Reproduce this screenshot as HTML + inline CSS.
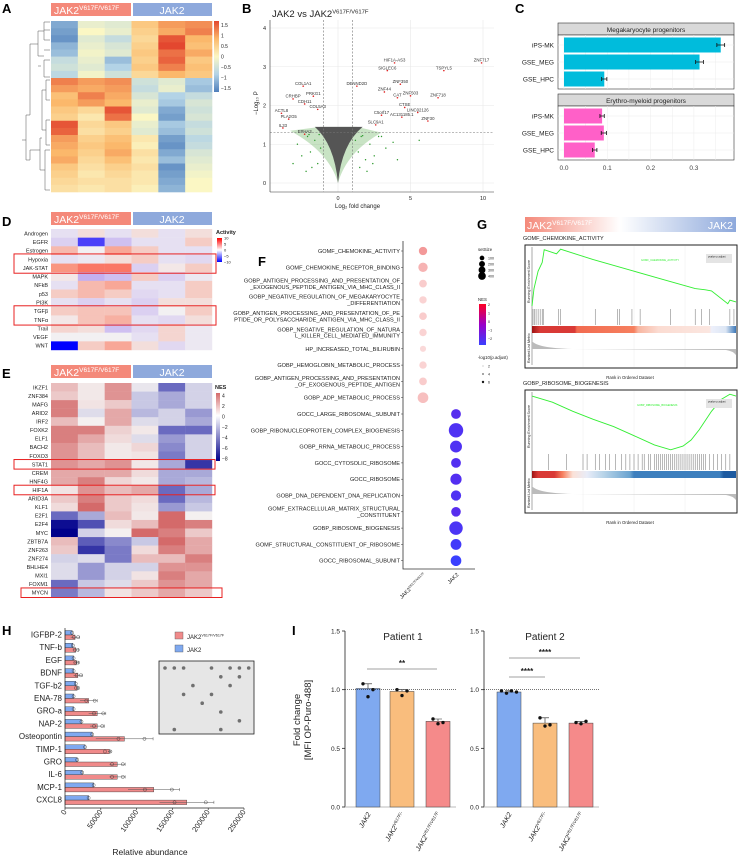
<!DOCTYPE html>
<html><head><meta charset="utf-8"><style>
body{margin:0;background:#fff}
svg{display:block;font-family:"Liberation Sans",Arial,sans-serif}
</style></head><body>
<svg id="fig" width="738" height="867" viewBox="0 0 738 867" xmlns="http://www.w3.org/2000/svg"></svg>
<script>
// ---------- DATA ----------
const heatAGroups=["JAK2 V617F/V617F","JAK2"];
const heatAValues=[
[-1.2,-0.2,-0.3,0.6,1.0,1.1],[-1.3,0.0,-0.2,0.5,0.9,1.2],[-1.4,-0.3,-0.6,0.4,1.5,0.8],[-1.1,-0.2,-0.4,0.5,1.6,0.7],
[-1.0,-0.1,-0.3,0.6,1.3,0.9],[-0.6,-0.2,-1.0,0.5,1.4,0.6],[-0.5,-0.3,-0.8,0.6,1.2,0.7],[-0.7,-0.1,-0.5,0.4,0.8,0.6],
[1.2,1.0,1.1,-0.5,-0.3,-0.9],[1.0,0.9,1.0,-0.6,-0.2,-1.0],[0.7,1.2,0.9,-0.4,-0.8,-0.6],[0.8,1.0,0.8,-0.2,-0.9,-0.4],
[0.6,0.4,1.5,-0.3,-1.2,-0.5],[0.5,0.2,1.3,0.0,-1.3,-0.4],[1.5,0.4,0.6,-0.2,-0.9,-0.6],[1.4,0.3,0.5,-0.3,-1.0,-0.5],
[1.0,0.5,0.7,0.2,-1.3,-0.7],[0.9,0.6,0.8,0.1,-1.4,-0.6],[0.8,0.5,0.9,0.3,-1.2,-0.4],[0.9,0.4,0.7,0.2,-1.0,-0.3],
[0.6,0.3,0.5,0.3,-1.4,-0.2],[0.5,0.2,0.4,0.2,-1.3,-0.1],[0.4,0.3,0.3,0.2,-1.2,0.0],[0.3,0.2,0.3,0.1,-1.1,0.0]];
const heatATicks=[1.5,1,0.5,0,-0.5,-1,-1.5];

const volcGenes=["COL1A1","PRKG1","CRHBP","CDH11","COL5A3","ACTL8","PLA2G5","IL33","EPHA3","SIGLEC6","HIF1A-AS3","ZNF717","TSPYL5","DENND2D","ZNF350","ZNF44","CAT","ZNF503","ZNF718","CTSE","LINC02126","AC131185.1","ZNF30","C5orf17","SLC9A1"];
const volcFC=[-2.4,-1.7,-3.1,-2.3,-1.4,-3.9,-3.4,-3.8,-2.3,3.4,3.9,9.9,7.3,1.3,4.3,3.2,4.1,5.0,6.9,4.6,5.5,4.4,6.2,3.0,2.6];
const volcP=[2.5,2.24,2.17,2.04,1.9,1.8,1.65,1.42,1.26,2.9,3.1,3.1,2.9,2.5,2.55,2.35,2.2,2.25,2.2,1.95,1.82,1.7,1.6,1.75,1.5];
const volcTicksX=[0,5,10];
const volcTicksY=[0,1,2,3,4];
const greenFC=[-2.8,-2.5,-2.1,-1.9,-1.6,-1.4,-1.2,-3.1,-2.2,-1.8,1.2,1.4,1.6,1.9,2.2,2.5,2.8,3.3,3.8,4.1,5.6,1.5,2.0,2.4,-1.3,-2.0,1.7,3.0];
const greenP=[1.0,0.7,1.2,0.8,1.1,0.5,0.9,0.5,0.3,0.4,1.1,0.8,1.2,0.6,1.0,0.7,1.2,0.9,1.05,0.6,1.1,0.4,0.3,0.5,1.25,1.25,1.22,1.2];

const cCats=["iPS-MK","GSE_MEG","GSE_HPC"];
const cMeg=[0.362,0.313,0.093];
const cMegErr=[0.009,0.009,0.006];
const cEry=[0.088,0.092,0.071];
const cEryErr=[0.005,0.006,0.005];
const cTicks=[0,0.1,0.2,0.3];

const dPathways=["Androgen","EGFR","Estrogen","Hypoxia","JAK-STAT","MAPK","NFkB","p53","PI3K","TGFβ","TNFα","Trail","VEGF","WNT"];
const dValues=[[-1,1,-1,1,-1,1],[-2,-8,-3,-1,-1,2],[3,0,4,2,-1,-1],[-1,-0.5,1,2,-1,-1.5],[5,6,6,-2,0.5,2],[0.5,-4,-3,2,-2,-0.5],[-1,3,4,-1,-1,2],[2,3,2,-1.5,-1,2],[-1,-2,-1,-2,1,1],[2,2.5,2.5,-2,0,2],[0.5,2.5,3.5,-1,-1.5,1],[1.5,1,-3,-1.5,1.5,-0.5],[0,0,0,-1,1.5,-0.5],[-10,2,4,1,-1.5,-0.5]];
const dTicks=[10,5,0,-5,-10];

const eTFs=["IKZF1","ZNF384","MAFG","ARID2","IRF2","FOXK2","ELF1","BACH2","FOXO3","STAT1","CREM","HNF4G","HIF1A","ARID3A","KLF1","E2F1","E2F4","MYC","ZBTB7A","ZNF263","ZNF274","BHLHE4","MXI1","FOXM1","MYCN"];
const eValues=[[2,0.3,3,-0.5,-5,-1.5],[1.5,0.3,3,-2,-3,-1.5],[3.5,0.5,1.5,-2,-3,-1.5],[3.5,-1,2.5,-2.5,-1.5,-3.5],[2,0,2.5,-1,-1.5,-3],[3.5,3.5,1.2,0.3,-5,-5],[3.5,2.5,0.8,-1,-3.5,-1.5],[3,2,0.3,1,-4,-1.5],[3,2,0.3,0.5,-4.5,-1.5],[3,2.5,3,0.3,-3,-7],[2.5,2.5,2.5,0.8,-3,-3],[2.5,3.5,1,0.3,-3,-2.5],[0.5,3,2,2.5,-5,-3],[1.5,3.5,1.5,0.8,-5,-2.5],[0.8,4,1.5,0.5,-3.5,-2],[-5,-3,2,0.3,4,0],[-8.5,-6,0.8,2,4.5,3.5],[-9,-1.5,0,4,3.5,1.5],[2,-5.5,-4,-2,4,2.5],[1.5,-7,-4.5,0.8,3.5,2.5],[-1.5,-1,-4.5,2,2,3.5],[-1,-3.5,-1.5,-1.5,3,3],[-1,-3.5,-1.5,0.5,3.5,2.5],[-5,-2,-1,1.5,3,2.5],[-4.5,-2.5,0.5,1.5,2.5,1.5]];
const eTicks=[4,2,0,-2,-4,-6,-8];

const fTerms=[["GOMF_CHEMOKINE_ACTIVITY"],["GOMF_CHEMOKINE_RECEPTOR_BINDING"],["GOBP_ANTIGEN_PROCESSING_AND_PRESENTATION_OF","_EXOGENOUS_PEPTIDE_ANTIGEN_VIA_MHC_CLASS_II"],["GOBP_NEGATIVE_REGULATION_OF_MEGAKARYOCYTE","_DIFFERENTIATION"],["GOBP_ANTIGEN_PROCESSING_AND_PRESENTATION_OF_PE","PTIDE_OR_POLYSACCHARIDE_ANTIGEN_VIA_MHC_CLASS_II"],["GOBP_NEGATIVE_REGULATION_OF_NATURA","L_KILLER_CELL_MEDIATED_IMMUNITY"],["HP_INCREASED_TOTAL_BILIRUBIN"],["GOBP_HEMOGLOBIN_METABOLIC_PROCESS"],["GOBP_ANTIGEN_PROCESSING_AND_PRESENTATION","_OF_EXOGENOUS_PEPTIDE_ANTIGEN"],["GOBP_ADP_METABOLIC_PROCESS"],["GOCC_LARGE_RIBOSOMAL_SUBUNIT"],["GOBP_RIBONUCLEOPROTEIN_COMPLEX_BIOGENESIS"],["GOBP_RRNA_METABOLIC_PROCESS"],["GOCC_CYTOSOLIC_RIBOSOME"],["GOCC_RIBOSOME"],["GOBP_DNA_DEPENDENT_DNA_REPLICATION"],["GOMF_EXTRACELLULAR_MATRIX_STRUCTURAL","_CONSTITUENT"],["GOBP_RIBOSOME_BIOGENESIS"],["GOMF_STRUCTURAL_CONSTITUENT_OF_RIBOSOME"],["GOCC_RIBOSOMAL_SUBUNIT"]];
const fGroup=[0,0,0,0,0,0,0,0,0,0,1,1,1,1,1,1,1,1,1,1];
const fSize=[90,130,70,60,70,60,30,60,70,190,150,430,260,150,220,170,140,360,200,190];
const fNES=[1.8,1.8,1.8,1.8,1.8,1.8,1.8,1.8,1.8,1.8,-1.6,-1.8,-1.8,-1.7,-1.7,-1.8,-1.6,-1.9,-2.1,-2.3];
const fAlpha=[0.8,0.6,0.4,0.35,0.4,0.35,0.3,0.35,0.4,0.5,1,1,1,1,1,1,1,1,1,1];

const gRank1=[0,0.01,0.03,0.05,0.06,0.12,0.14,0.3,0.5,0.65,0.8,0.85,0.88,0.96,0.97,1];
const gES1=[0,0.3,0.6,0.75,0.97,0.9,0.98,0.8,0.6,0.45,0.3,0.28,0.26,0.04,0.1,0.07];
const gHits1=[0.005,0.012,0.02,0.03,0.04,0.05,0.055,0.13,0.14,0.31,0.42,0.43,0.49,0.53,0.68,0.8,0.83,0.87,0.97,0.99];
const gRank2=[0,0.1,0.2,0.3,0.4,0.5,0.6,0.68,0.74,0.78,0.82,0.88,0.93,0.97,1];
const gES2=[0,-0.1,-0.25,-0.38,-0.5,-0.65,-0.8,-0.88,-0.82,-0.72,-0.55,-0.25,-0.05,0.03,0];
const gHits2=[0.08,0.17,0.25,0.27,0.31,0.33,0.36,0.38,0.41,0.44,0.46,0.48,0.5,0.52,0.54,0.55,0.57,0.58,0.6,0.61,0.62,0.63,0.64,0.65,0.66,0.67,0.68,0.69,0.7,0.71,0.72,0.73,0.74,0.75,0.76,0.77,0.78,0.79,0.8,0.81,0.82,0.83,0.84,0.85,0.87,0.89,0.91,0.93,0.95,0.97];

const hCats=["IGFBP-2","TNF-b","EGF","BDNF","TGF-b2","ENA-78","GRO-a","NAP-2","Osteopontin","TIMP-1","GRO","IL-6","MCP-1","CXCL8"];
const hJak2=[10000,11000,12000,12000,15000,12000,12000,23000,38000,28000,17000,24000,40000,33000];
const hMut=[14000,15000,16000,18000,17000,33000,45000,45000,83000,62000,73000,73000,124000,170000];
const hMutErr=[6000,4000,3000,6000,2000,12000,12000,10000,40000,2000,11000,11000,36000,38000];
const hTicks=[0,50000,100000,150000,200000,250000];

const iGroups=["JAK2","JAK2 V617F/-","JAK2 V617F/V617F"];
const iP1=[1.01,0.985,0.73];
const iP2=[0.98,0.715,0.715];
const iP1pts=[[1.05,0.94,1.0],[1.0,0.95,0.99],[0.75,0.71,0.72]];
const iP2pts=[[0.99,0.97,0.99,0.98],[0.76,0.69,0.7],[0.72,0.71,0.73]];
const iTicks=[0,0.5,1.0,1.5];

// ---------- HELPERS ----------
const NS="http://www.w3.org/2000/svg";
const svg=document.getElementById('fig');
function mk(parent,tag,attrs,name,inter){
  const el=document.createElementNS(NS,tag);
  for(const k in attrs) el.setAttribute(k,attrs[k]);
  
  
  parent.appendChild(el);return el;
}
function txt(parent,x,y,s,size,name,extra){
  const a=Object.assign({x:x,y:y,'font-size':size,fill:'#222'},extra||{});
  const t=mk(parent,'text',a,name,false);t.textContent=s;return t;
}
function supTxt(parent,x,y,base,sup,size,name,extra){
  const a=Object.assign({x:x,y:y,'font-size':size,fill:'#222'},extra||{});
  const t=mk(parent,'text',a,name,false);
  const s1=mk(t,'tspan',{},name+'-base',false);s1.textContent=base;
  const s2=mk(t,'tspan',{'font-size':size*0.62,dy:-size*0.38},name+'-sup',false);s2.textContent=sup;
  return t;
}
function lerp(a,b,t){return a+(b-a)*t}
function hex(c){return [parseInt(c.slice(1,3),16),parseInt(c.slice(3,5),16),parseInt(c.slice(5,7),16)]}
function scaleColor(stops,v){
  if(v<=stops[0][0])return stops[0][1];
  for(let i=1;i<stops.length;i++){if(v<=stops[i][0]){const t=(v-stops[i-1][0])/(stops[i][0]-stops[i-1][0]);const a=hex(stops[i-1][1]),b=hex(stops[i][1]);return 'rgb('+a.map((x,j)=>Math.round(lerp(x,b[j],t))).join(',')+')';}}
  return stops[stops.length-1][1];
}
function panelLabel(x,y,s){txt(svg,x,y,s,13,'panel-label-'+s.toLowerCase(),{'font-weight':'bold',fill:'#000'});}
function groupHeaders(y,name){
  mk(svg,'rect',{x:51,y:y,width:80,height:13,fill:'#f4897a'},name+'-mutant-header',false);
  mk(svg,'rect',{x:133,y:y,width:79,height:13,fill:'#8ea9dc'},name+'-jak2-header',false);
  supTxt(svg,54,y+11,'JAK2','V617F/V617F',10.5,name+'-mutant-label',{fill:'#fff'});
  txt(svg,172,y+11,'JAK2',10.5,name+'-jak2-label',{fill:'#fff','text-anchor':'middle'});
}

// ---------- PANEL A ----------
panelLabel(2,13,'A');
groupHeaders(3,'a');
const aStops=[[-1.6,'#4f7fbb'],[-0.8,'#b3d3e6'],[0,'#fbf7c4'],[0.8,'#fbb86b'],[1.6,'#e3472f']];
const aG=mk(svg,'g',{},'heatmap-a',false);
const aRowH=171/heatAValues.length, aColW=161/6;
heatAValues.forEach((row,i)=>row.forEach((v,j)=>{
  mk(aG,'rect',{x:51+j*aColW,y:21+i*aRowH,width:aColW+0.3,height:aRowH+0.3,fill:scaleColor(aStops,v)},'heatmap-a-cell',false);
}));
mk(svg,'path',{d:'M50 22H44V40H50M50 30H44M44 31H38V56H44M50 50H44M50 60H44V77H50M41 66H38M38 44H30V115M50 80H46V100H50M46 90H42V130H46M50 120H46V145H50M50 150H45V190H50M45 170H40V138H42M40 150H30M30 115H26V160H30M30 160V150M26 140H22',fill:'none',stroke:'#555','stroke-width':0.5},'dendrogram-a',false);
const aBar=mk(svg,'defs',{},'defs',false);
aBar.innerHTML='<linearGradient id="ga" x1="0" y1="0" x2="0" y2="1"><stop offset="0" stop-color="#e3472f"/><stop offset="0.25" stop-color="#fbb86b"/><stop offset="0.5" stop-color="#fbf7c4"/><stop offset="0.75" stop-color="#b3d3e6"/><stop offset="1" stop-color="#4f7fbb"/></linearGradient><linearGradient id="gd" x1="0" y1="0" x2="0" y2="1"><stop offset="0" stop-color="#ff0000"/><stop offset="0.5" stop-color="#ffffff"/><stop offset="1" stop-color="#0000ff"/></linearGradient><linearGradient id="ge" x1="0" y1="0" x2="0" y2="1"><stop offset="0" stop-color="#d46a6a"/><stop offset="0.33" stop-color="#ffffff"/><stop offset="1" stop-color="#00008b"/></linearGradient><linearGradient id="gf" x1="0" y1="0" x2="0" y2="1"><stop offset="0" stop-color="#ff0022"/><stop offset="0.5" stop-color="#9a00c8"/><stop offset="1" stop-color="#3a40ff"/></linearGradient><linearGradient id="gg" x1="0" y1="0" x2="1" y2="0"><stop offset="0" stop-color="#f4897a"/><stop offset="0.45" stop-color="#ffffff"/><stop offset="1" stop-color="#8ea9dc"/></linearGradient><linearGradient id="gr1" x1="0" y1="0" x2="1" y2="0"><stop offset="0" stop-color="#9e1414"/><stop offset="0.04" stop-color="#d93a36"/><stop offset="0.21" stop-color="#d93a36"/><stop offset="0.22" stop-color="#f26b50"/><stop offset="0.5" stop-color="#f6805f"/><stop offset="0.52" stop-color="#f8b5a0"/><stop offset="0.62" stop-color="#fbdcd2"/><stop offset="0.87" stop-color="#fbe6e0"/><stop offset="0.88" stop-color="#edf0fb"/><stop offset="0.95" stop-color="#dce6f4"/><stop offset="1" stop-color="#3c78b8"/></linearGradient><linearGradient id="gr2" x1="0" y1="0" x2="1" y2="0"><stop offset="0" stop-color="#9e1414"/><stop offset="0.03" stop-color="#d93a36"/><stop offset="0.11" stop-color="#d93a36"/><stop offset="0.15" stop-color="#f6805f"/><stop offset="0.2" stop-color="#fbe2d8"/><stop offset="0.27" stop-color="#e8ecf8"/><stop offset="0.35" stop-color="#b8d4e8"/><stop offset="0.48" stop-color="#6aa3d0"/><stop offset="0.5" stop-color="#3d7fbe"/><stop offset="0.92" stop-color="#3d7fbe"/><stop offset="0.94" stop-color="#1d5aa0"/><stop offset="1" stop-color="#1d5aa0"/></linearGradient>';
mk(svg,'rect',{x:214,y:21,width:5,height:71,fill:'url(#ga)'},'colorbar-a',false);
heatATicks.forEach(t=>{const y=21+(1.7-t)/3.4*71;txt(svg,221,y+2,String(t).replace('-','−'),5,'colorbar-a-tick');});

// ---------- PANEL B ----------
panelLabel(242,13,'B');
supTxt(svg,272,17,'JAK2 vs JAK2','V617F/V617F',9.5,'volcano-title');
const vx=fc=>338+fc*14.5, vy=p=>183-p*38.75;
const bG=mk(svg,'g',{},'volcano-plot',false);
mk(bG,'rect',{x:270,y:20,width:224,height:172,fill:'#fff'},'volcano-bg',false);
volcTicksX.forEach(t=>{mk(bG,'line',{x1:vx(t),x2:vx(t),y1:20,y2:192,stroke:'#e8e8e8','stroke-width':0.6},'volcano-gridline-x',false);txt(svg,vx(t),200,String(t),5.5,'volcano-x-tick',{'text-anchor':'middle'});});
volcTicksY.forEach(t=>{mk(bG,'line',{x1:270,x2:494,y1:vy(t),y2:vy(t),stroke:'#e8e8e8','stroke-width':0.6},'volcano-gridline-y',false);txt(svg,266,vy(t)+2,String(t),5.5,'volcano-y-tick',{'text-anchor':'end'});});
mk(bG,'path',{d:'M'+vx(0)+' '+vy(0)+' Q'+vx(-0.6)+' '+vy(0.8)+' '+vx(-3.3)+' '+vy(1.35)+' L'+vx(-1.2)+' '+vy(1.45)+' L'+vx(1.3)+' '+vy(1.45)+' L'+vx(3.0)+' '+vy(1.3)+' Q'+vx(0.6)+' '+vy(0.8)+' '+vx(0)+' '+vy(0)+'Z',fill:'#3a9a2a',opacity:0.28},'volcano-green-cloud',false);
greenFC.forEach((f,i)=>mk(bG,'circle',{cx:vx(f),cy:vy(greenP[i]),r:0.7,fill:'#2e9a2e'},'volcano-point-green',false));
mk(bG,'path',{d:'M'+vx(0)+' '+vy(0)+' Q'+vx(-0.25)+' '+vy(1.0)+' '+vx(-1.6)+' '+vy(1.45)+' L'+vx(1.7)+' '+vy(1.45)+' Q'+vx(0.25)+' '+vy(1.0)+' '+vx(0)+' '+vy(0)+'Z',fill:'#555'},'volcano-gray-cloud',false);
mk(bG,'line',{x1:vx(-1),x2:vx(-1),y1:20,y2:192,stroke:'#777','stroke-dasharray':'2,1.5','stroke-width':0.6},'volcano-fc-threshold-left',false);
mk(bG,'line',{x1:vx(1),x2:vx(1),y1:20,y2:192,stroke:'#777','stroke-dasharray':'2,1.5','stroke-width':0.6},'volcano-fc-threshold-right',false);
mk(bG,'line',{x1:270,x2:494,y1:vy(1.3),y2:vy(1.3),stroke:'#777','stroke-dasharray':'2,1.5','stroke-width':0.6},'volcano-p-threshold',false);
volcGenes.forEach((g,i)=>{
  mk(bG,'circle',{cx:vx(volcFC[i]),cy:vy(volcP[i]),r:0.8,fill:'#e02020'},'volcano-point-red',false);
  txt(svg,vx(volcFC[i]),vy(volcP[i])-1.2,g,4.3,'volcano-gene-label',{'text-anchor':'middle',fill:'#333'});
});
mk(svg,'line',{x1:270,x2:270,y1:20,y2:192,stroke:'#333','stroke-width':0.6},'volcano-y-axis',false);
mk(svg,'line',{x1:270,x2:494,y1:192,y2:192,stroke:'#333','stroke-width':0.6},'volcano-x-axis',false);
txt(svg,335,208,'Log₂ fold change',6,'volcano-x-title');
txt(svg,0,0,'−Log₁₀ P',6,'volcano-y-title',{transform:'translate(258,115) rotate(-90)'});

// ---------- PANEL C ----------
panelLabel(515,13,'C');
const cx0=564, cxs=433;
function facet(y0,title,vals,errs,color,name){
  mk(svg,'rect',{x:558,y:y0,width:176,height:12,fill:'#d9d9d9',stroke:'#333','stroke-width':0.6},name+'-strip',false);
  txt(svg,646,y0+9,title,6.5,name+'-strip-label',{'text-anchor':'middle'});
  mk(svg,'rect',{x:558,y:y0+12,width:176,height:54,fill:'#fff',stroke:'#333','stroke-width':0.6},name+'-panel',false);
  cTicks.concat([0.05,0.15,0.25,0.35]).forEach(t=>mk(svg,'line',{x1:cx0+t*cxs,x2:cx0+t*cxs,y1:y0+12,y2:y0+66,stroke:'#ececec','stroke-width':0.5},name+'-grid',false));
  vals.forEach((v,i)=>{
    const cy=y0+22+i*17;
    mk(svg,'line',{x1:558,x2:734,y1:cy,y2:cy,stroke:'#ececec','stroke-width':0.5},name+'-grid-y',false);
    mk(svg,'rect',{x:cx0,y:cy-7.5,width:v*cxs,height:15,fill:color},name+'-bar',false);
    const e1=cx0+(v-errs[i])*cxs,e2=cx0+(v+errs[i])*cxs;
    mk(svg,'path',{d:'M'+e1+' '+cy+'H'+e2+'M'+e1+' '+(cy-2)+'V'+(cy+2)+'M'+e2+' '+(cy-2)+'V'+(cy+2),stroke:'#111','stroke-width':0.8,fill:'none'},name+'-errorbar',false);
    txt(svg,554,cy+2.5,cCats[i],6.5,name+'-category-label',{'text-anchor':'end'});
  });
}
facet(23,'Megakaryocyte progenitors',cMeg,cMegErr,'#00bcdc','c-megakaryocyte');
facet(94,'Erythro-myeloid progenitors',cEry,cEryErr,'#ff60c8','c-erythro-myeloid');
cTicks.forEach(t=>txt(svg,cx0+t*cxs,170,t.toFixed(1),6.5,'c-x-tick',{'text-anchor':'middle',fill:'#444'}));

// ---------- PANEL D ----------
panelLabel(2,226,'D');
groupHeaders(212,'d');
const dStops=[[-10,'#0000ff'],[-5,'#b8a0f0'],[0,'#f2f0f2'],[5,'#f99580'],[10,'#ff0000']];
const dRowH=(350-229)/dPathways.length;
dValues.forEach((row,i)=>{
  txt(svg,48,229+(i+0.5)*dRowH+2,dPathways[i],5.5,'d-row-label',{'text-anchor':'end'});
  row.forEach((v,j)=>mk(svg,'rect',{x:51+j*aColW,y:229+i*dRowH,width:aColW+0.2,height:dRowH+0.2,fill:scaleColor(dStops,v)},'d-heatmap-cell',false));
});
mk(svg,'rect',{x:14,y:229+3*dRowH-1,width:202,height:2*dRowH+2,fill:'none',stroke:'#e82020','stroke-width':1},'d-highlight-jak-stat',false);
mk(svg,'rect',{x:14,y:229+9*dRowH-1,width:202,height:2*dRowH+2,fill:'none',stroke:'#e82020','stroke-width':1},'d-highlight-tgfb',false);
txt(svg,216,234,'Activity',5.5,'d-colorbar-title',{'font-weight':'bold'});
mk(svg,'rect',{x:217,y:238,width:5,height:24,fill:'url(#gd)'},'d-colorbar',false);
dTicks.forEach(t=>txt(svg,224,238+(10-t)/20*24+1.5,String(t).replace('-','−'),4,'d-colorbar-tick'));

// ---------- PANEL E ----------
panelLabel(2,378,'E');
groupHeaders(365,'e');
const eStops=[[-9,'#00008b'],[-5,'#6a6ac0'],[-2,'#c8c8e4'],[0,'#f4f0f0'],[2,'#e9bcbc'],[4,'#d46a6a']];
const eRowH=(597-383)/eTFs.length;
eValues.forEach((row,i)=>{
  txt(svg,48,383+(i+0.5)*eRowH+2,eTFs[i],5.5,'e-row-label',{'text-anchor':'end'});
  row.forEach((v,j)=>mk(svg,'rect',{x:51+j*aColW,y:383+i*eRowH,width:aColW+0.2,height:eRowH+0.2,fill:scaleColor(eStops,v)},'e-heatmap-cell',false));
});
[[9,14,215],[12,14,215],[24,21,222]].forEach(b=>mk(svg,'rect',{x:b[1],y:383+b[0]*eRowH-0.5,width:b[2]-b[1],height:eRowH+1,fill:'none',stroke:'#e82020','stroke-width':1},'e-highlight-box',false));
txt(svg,215,389,'NES',5.5,'e-colorbar-title',{'font-weight':'bold'});
mk(svg,'rect',{x:216,y:393,width:4,height:68,fill:'url(#ge)'},'e-colorbar',false);
eTicks.forEach(t=>txt(svg,222,393+(4.5-t)/13*68+2,String(t).replace('-','−'),5,'e-colorbar-tick'));

// ---------- PANEL F ----------
panelLabel(258,266,'F');
const fy0=251, fdy=16.3;
const fxPos=[423,456];
const fR=s=>1.6+Math.sqrt(s)*0.27;
const fStops=[[-2.3,'#3a40ff'],[0,'#9a00c8'],[2,'#ff0022']];
fTerms.forEach((lines,i)=>{
  const y=fy0+i*fdy;
  lines.forEach((l,k)=>txt(svg,400,y+2-(lines.length-1)*3.2+k*6.4,l,5.6,'f-term-label',{'text-anchor':'end'}));
  mk(svg,'line',{x1:401,x2:403,y1:y,y2:y,stroke:'#333','stroke-width':0.5},'f-y-tick',false);
  const c=fGroup[i]===0?'#f08080':scaleColor(fStops,fNES[i]);
  mk(svg,'circle',{cx:fxPos[fGroup[i]],cy:y,r:fR(fSize[i]),fill:c,'fill-opacity':fAlpha[i]},'f-dot',false);
});
mk(svg,'path',{d:'M403 241V569H475',stroke:'#333','stroke-width':0.8,fill:'none'},'f-axes',false);
supTxt(svg,0,0,'JAK2','V617F/V617F',5.5,'f-x-label-mutant',{transform:'translate(426,575) rotate(-45)','text-anchor':'end'});
txt(svg,0,0,'JAK2',5.5,'f-x-label-jak2',{transform:'translate(459,575) rotate(-45)','text-anchor':'end'});
txt(svg,478,251,'setSize',4.3,'f-legend-size-title');
[100,200,300,400].forEach((s,k)=>{mk(svg,'circle',{cx:482,cy:258+k*6,r:fR(s)*0.55,fill:'#000'},'f-legend-size-dot',false);txt(svg,488,259.5+k*6,String(s),3.6,'f-legend-size-label');});
txt(svg,478,301,'NES',4.3,'f-legend-nes-title');
mk(svg,'rect',{x:479,y:304,width:7,height:41,fill:'url(#gf)'},'f-legend-nes-colorbar',false);
[2,1,0,-1,-2].forEach((t,k)=>txt(svg,488,306+k*8.5,String(t).replace('-','−'),3.6,'f-legend-nes-tick'));
txt(svg,478,359,'-log10(p.adjust)',4.3,'f-legend-p-title');
[2,4,6].forEach((t,k)=>{mk(svg,'circle',{cx:483,cy:366+k*8,r:0.6+k*0.3,fill:'#000','fill-opacity':0.3+k*0.3},'f-legend-p-dot',false);txt(svg,488,367.5+k*8,String(t),3.6,'f-legend-p-label');});

// ---------- PANEL G ----------
panelLabel(477,229,'G');
mk(svg,'rect',{x:525,y:217,width:211,height:15,fill:'url(#gg)'},'g-gradient-header',false);
supTxt(svg,527,229,'JAK2','V617F/V617F',10.5,'g-header-mutant',{fill:'#fff'});
txt(svg,733,229,'JAK2',10.5,'g-header-jak2',{fill:'#fff','text-anchor':'end'});
function gsea(y0,title,ranks,es,hits,grad,esMin,esMax,name,leg){
  const X0=532,X1=736;
  const gx=r=>X0+r*(X1-X0);
  txt(svg,523,y0-5,title,5.5,name+'-title');
  mk(svg,'rect',{x:525,y:y0,width:212,height:123,fill:'#fff',stroke:'#222','stroke-width':1},name+'-frame',false);
  const esTop=y0+3,esBot=y0+61;
  const gy=e=>esBot-(e-esMin)/(esMax-esMin)*(esBot-esTop);
  [0.25,0.5,0.75].forEach(t=>mk(svg,'line',{x1:gx(t),x2:gx(t),y1:y0+1,y2:y0+122,stroke:'#eee','stroke-width':0.5},name+'-grid',false));
  mk(svg,'line',{x1:X0,x2:X0,y1:y0+2,y2:y0+120,stroke:'#555','stroke-width':0.5},name+'-y-axis',false);
  let d='';ranks.forEach((r,i)=>{d+=(i?'L':'M')+gx(r).toFixed(1)+' '+gy(es[i]).toFixed(1);});
  mk(svg,'path',{d:d,stroke:'#33ee33','stroke-width':0.9,fill:'none'},name+'-es-curve',false);
  hits.forEach(h=>mk(svg,'line',{x1:gx(h),x2:gx(h),y1:y0+64,y2:y0+80,stroke:'#333','stroke-width':0.5,'stroke-opacity':0.7},name+'-hit',false));
  mk(svg,'rect',{x:X0,y:y0+81,width:X1-X0,height:7,fill:grad},name+'-rank-colorbar',false);
  mk(svg,'path',{d:'M'+X0+' '+(y0+104)+' L'+X0+' '+(y0+96)+' Q'+(X0+5)+' '+(y0+103)+' '+(X0+40)+' '+(y0+104)+' L'+(X1-10)+' '+(y0+105)+' Q'+(X1-3)+' '+(y0+106)+' '+X1+' '+(y0+110)+' L'+X1+' '+(y0+104)+'Z',fill:'#bbb'},name+'-ranked-metric',false);
  txt(svg,0,0,'Running Enrichment Score',3.6,name+'-es-axis-title',{transform:'translate(530,'+(y0+58)+') rotate(-90)'});
  txt(svg,0,0,'Ranked List Metric',3.6,name+'-metric-axis-title',{transform:'translate(530,'+(y0+118)+') rotate(-90)'});
  txt(svg,630,y0+134,'Rank in Ordered Dataset',4.3,name+'-x-title',{'text-anchor':'middle'});
  txt(svg,leg,y0+16,title,2.6,name+'-legend-label',{fill:'#33ee33'});
  mk(svg,'rect',{x:706,y:y0+9,width:26,height:9,fill:'#e4e4e4'},name+'-stats-table',false);
  txt(svg,708,y0+12.5,'pvalue  p.adjust',2.6,name+'-stats-header');
}
gsea(245,'GOMF_CHEMOKINE_ACTIVITY',gRank1,gES1,gHits1,'url(#gr1)',0,1,'g-chemokine',641);
gsea(390,'GOBP_RIBOSOME_BIOGENESIS',gRank2,gES2,gHits2,'url(#gr2)',-0.9,0.05,'g-ribosome',637);

// ---------- PANEL H ----------
panelLabel(2,635,'H');
const hx=v=>65+v/250000*179;
const hy0=635, hdy=12.7;
hCats.forEach((c,i)=>{
  const y=hy0+i*hdy;
  txt(svg,62,y+2.5,c,8,'h-category-label',{'text-anchor':'end'});
  mk(svg,'rect',{x:65,y:y-4.5,width:hx(hJak2[i])-65,height:4.5,fill:'#7fa9f0',stroke:'#333','stroke-width':0.4},'h-bar-jak2',false);
  mk(svg,'rect',{x:65,y:y,width:hx(hMut[i])-65,height:4.5,fill:'#f08a8a',stroke:'#333','stroke-width':0.4},'h-bar-mutant',false);
  mk(svg,'path',{d:'M'+hx(hMut[i]-hMutErr[i])+' '+(y+2.2)+'H'+hx(hMut[i]+hMutErr[i])+'M'+hx(hMut[i]+hMutErr[i])+' '+(y+0.7)+'V'+(y+3.7),stroke:'#555','stroke-width':0.5,fill:'none'},'h-errorbar',false);
  mk(svg,'circle',{cx:hx(hMut[i]*0.9),cy:y+2.2,r:1.6,fill:'none',stroke:'#333','stroke-width':0.4},'h-point',false);
  mk(svg,'circle',{cx:hx(hMut[i]+hMutErr[i]*0.7),cy:y+2.2,r:1.6,fill:'none',stroke:'#333','stroke-width':0.4},'h-point',false);
  mk(svg,'circle',{cx:hx(hJak2[i]),cy:y-2.2,r:1.6,fill:'none',stroke:'#333','stroke-width':0.4},'h-point',false);
});
mk(svg,'path',{d:'M65 628V808H'+hx(250000),stroke:'#222','stroke-width':0.7,fill:'none'},'h-axes',false);
hTicks.forEach(t=>{mk(svg,'line',{x1:hx(t),x2:hx(t),y1:808,y2:810,stroke:'#222','stroke-width':0.6},'h-x-tick-mark',false);txt(svg,0,0,String(t),7.5,'h-x-tick',{transform:'translate('+(hx(t)+2)+',812) rotate(-55)','text-anchor':'end'});});
txt(svg,150,855,'Relative abundance',8.5,'h-x-title',{'text-anchor':'middle'});
mk(svg,'rect',{x:175,y:632,width:8,height:7,fill:'#f08a8a',stroke:'#555','stroke-width':0.4},'h-legend-swatch-mutant',false);
supTxt(svg,187,639,'JAK2','V617F/V617F',6,'h-legend-label-mutant');
mk(svg,'rect',{x:175,y:645,width:8,height:7,fill:'#7fa9f0',stroke:'#555','stroke-width':0.4},'h-legend-swatch-jak2',false);
txt(svg,187,652,'JAK2',6,'h-legend-label-jak2');
mk(svg,'rect',{x:159,y:661,width:95,height:73,fill:'#e6e6e6',stroke:'#222','stroke-width':0.8},'h-blot-image',false);
const blot=[[0,0],[1,0],[2,0],[5,0],[7,0],[8,0],[9,0],[6,1],[8,1],[3,2],[2,3],[4,4],[6,5],[1,7],[6,7],[8,6],[5,3],[7,2]];
blot.forEach(b=>mk(svg,'circle',{cx:165+b[0]*9.3,cy:668+b[1]*8.8,r:1.8,fill:'#222','fill-opacity':0.6},'h-blot-spot',false));

// ---------- PANEL I ----------
panelLabel(292,635,'I');
const iy=v=>807-v/1.5*176;
txt(svg,0,0,'Fold change',9.5,'i-y-title-1',{transform:'translate(300,720) rotate(-90)','text-anchor':'middle'});
txt(svg,0,0,'[MFI OP-Puro-488]',9.5,'i-y-title-2',{transform:'translate(311,720) rotate(-90)','text-anchor':'middle'});
const iColors=['#7fa9f0','#f9bd7d','#f58a8a'];
function iPanel(ax,title,vals,pts,barX,name){
  txt(svg,(barX[0]+barX[2])/2+12,640,title,10,name+'-title',{'text-anchor':'middle'});
  mk(svg,'line',{x1:ax,x2:ax,y1:iy(1.5),y2:807,stroke:'#222','stroke-width':0.8},name+'-y-axis',false);
  mk(svg,'line',{x1:ax,x2:barX[2]+30,y1:807,y2:807,stroke:'#bbb','stroke-width':1},name+'-x-axis',false);
  iTicks.forEach(t=>{mk(svg,'line',{x1:ax-3,x2:ax,y1:iy(t),y2:iy(t),stroke:'#222','stroke-width':0.8},name+'-y-tick-mark',false);txt(svg,ax-5,iy(t)+2.5,t.toFixed(1),6.5,name+'-y-tick',{'text-anchor':'end'});});
  vals.forEach((v,i)=>{
    mk(svg,'rect',{x:barX[i],y:iy(v),width:24,height:807-iy(v),fill:iColors[i],stroke:'#444','stroke-width':0.5},name+'-bar',false);
    const cx=barX[i]+12;
    const mx=Math.max(...pts[i]);
    mk(svg,'path',{d:'M'+cx+' '+iy(v)+'V'+iy(mx)+'M'+(cx-4)+' '+iy(mx)+'H'+(cx+4),stroke:'#222','stroke-width':0.6,fill:'none'},name+'-errorbar',false);
    pts[i].forEach((p,k)=>mk(svg,'circle',{cx:cx+(k-(pts[i].length-1)/2)*5,cy:iy(p),r:1.7,fill:'#111'},name+'-point',false));
    const lab=iGroups[i].split(' ');
    if(lab.length>1) supTxt(svg,0,0,lab[0],lab[1],7,name+'-x-label',{transform:'translate('+(cx+3)+',814) rotate(-60)','text-anchor':'end','font-style':'italic'});
    else txt(svg,0,0,lab[0],7,name+'-x-label',{transform:'translate('+(cx+3)+',814) rotate(-60)','text-anchor':'end','font-style':'italic'});
  });
  mk(svg,'line',{x1:ax,x2:barX[2]+30,y1:iy(1),y2:iy(1),stroke:'#222','stroke-width':0.6,'stroke-dasharray':'1,1'},name+'-reference-line',false);
}
iPanel(345,'Patient 1',iP1,iP1pts,[356,390,426],'i-patient1');
iPanel(484,'Patient 2',iP2,iP2pts,[497,533,569],'i-patient2');
mk(svg,'line',{x1:367,x2:437,y1:669,y2:669,stroke:'#444','stroke-width':0.6},'i-p1-sig-line',false);
txt(svg,402,666,'**',8,'i-p1-sig-label',{'text-anchor':'middle','font-weight':'bold'});
mk(svg,'line',{x1:509,x2:580,y1:658,y2:658,stroke:'#444','stroke-width':0.6},'i-p2-sig-line-1',false);
txt(svg,545,655,'****',8,'i-p2-sig-label-1',{'text-anchor':'middle','font-weight':'bold'});
mk(svg,'line',{x1:509,x2:545,y1:677,y2:677,stroke:'#444','stroke-width':0.6},'i-p2-sig-line-2',false);
txt(svg,527,674,'****',8,'i-p2-sig-label-2',{'text-anchor':'middle','font-weight':'bold'});
</script>
</body></html>
